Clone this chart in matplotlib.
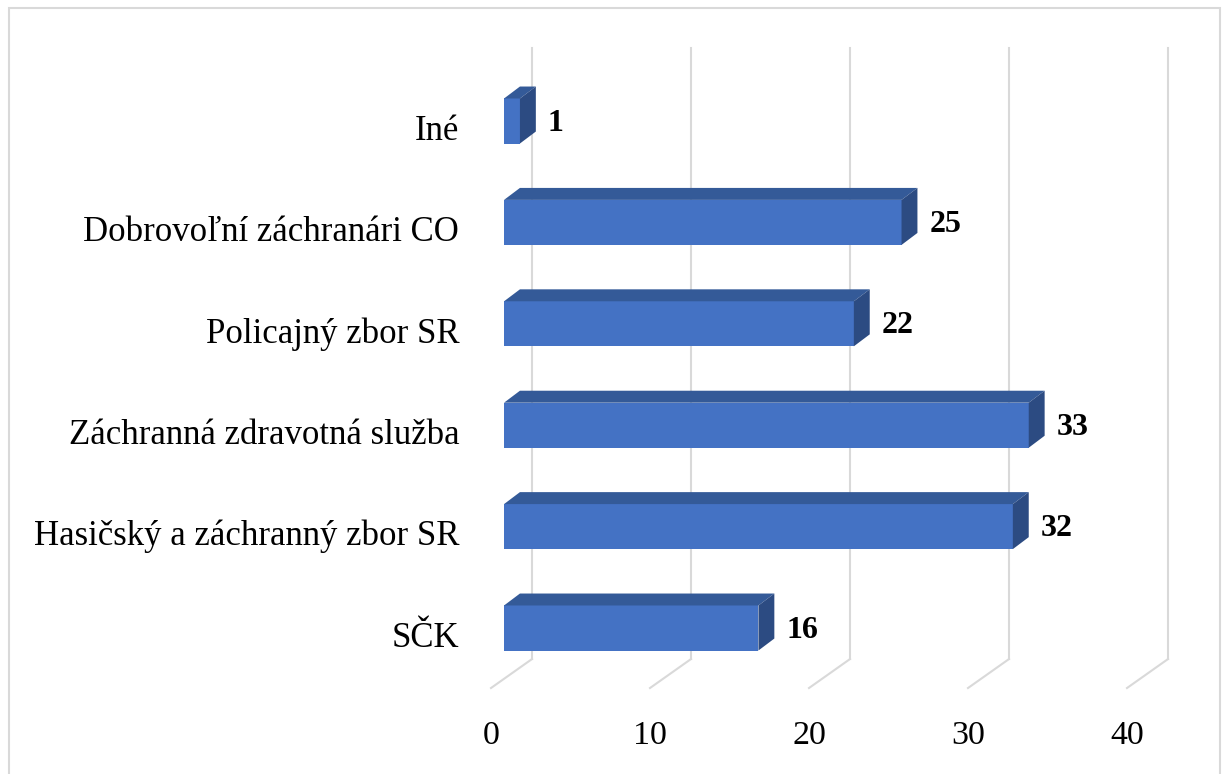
import matplotlib
matplotlib.use("Agg")
import matplotlib.pyplot as plt
from matplotlib.patches import Rectangle

categories = ["SČK", "Hasičský a záchranný zbor SR", "Záchranná zdravotná služba",
              "Policajný zbor SR", "Dobrovoľní záchranári CO", "Iné"]
values = [16, 32, 33, 22, 25, 1]
ticks = [0, 10, 20, 30, 40]

front_col = "#4472C4"
top_col = "#345A98"
side_col = "#2C4B82"
grid_col = "#D9D9D9"

W, H = 1222, 774
PX = 15.9      # pixels per value unit
PY = 101.4     # pixels per category
X0 = 491       # pixel of value 0 on the floor front edge
Y0 = 628       # pixel of the first bar centre

fig = plt.figure(figsize=(W / 100, H / 100), dpi=100)
ax = fig.add_axes([0, 0, 1, 1])
ax.set_xlim(-X0 / PX, (W - X0) / PX)
ax.set_ylim((Y0 - H) / PY, Y0 / PY)
ax.axis("off")

# depth / projection settings (in data units)
floor_front = -0.592
floor_dx, floor_dy = 2.58, 0.286
grid_top = 5.72
bar_x0 = 0.82         # front face offset
bar_half = 0.222
bar_dx, bar_dy = 1.0, 0.118

# gridlines: floor diagonal + back wall vertical
for t in ticks:
    ax.plot([t, t + floor_dx], [floor_front, floor_front + floor_dy],
            color=grid_col, lw=1.5, zorder=1)
    ax.plot([t + floor_dx, t + floor_dx], [floor_front + floor_dy, grid_top],
            color=grid_col, lw=1.5, zorder=1)
    ax.text(t, floor_front - 0.47, str(t), ha="center", va="center",
            fontsize=24.5, family="Liberation Serif")

for i, (cat, v) in enumerate(zip(categories, values)):
    x1, x2 = bar_x0, bar_x0 + v
    yb, yt = i - bar_half, i + bar_half
    # front face
    ax.fill([x1, x2, x2, x1], [yb, yb, yt, yt], color=front_col, lw=0, zorder=3)
    # top face
    ax.fill([x1, x2, x2 + bar_dx, x1 + bar_dx],
            [yt, yt, yt + bar_dy, yt + bar_dy], color=top_col, lw=0, zorder=3)
    # right side
    ax.fill([x2, x2 + bar_dx, x2 + bar_dx, x2],
            [yb, yb + bar_dy, yt + bar_dy, yt], color=side_col, lw=0, zorder=3)
    ax.text(x2 + bar_dx + 0.75, i - 0.02, str(v), ha="left", va="center",
            fontsize=23, fontweight="bold", family="Liberation Serif")
    ax.text(-2.0, i - 0.1, cat, ha="right", va="center",
            fontsize=25, family="Liberation Serif")

fig.patches.append(Rectangle((9 / W, -0.01), (1220 - 9) / W, 1 - 8 / H + 0.01,
                             transform=fig.transFigure, fill=False,
                             edgecolor="#D9D9D9", lw=1.5))

fig.savefig("out.png", dpi=100)
